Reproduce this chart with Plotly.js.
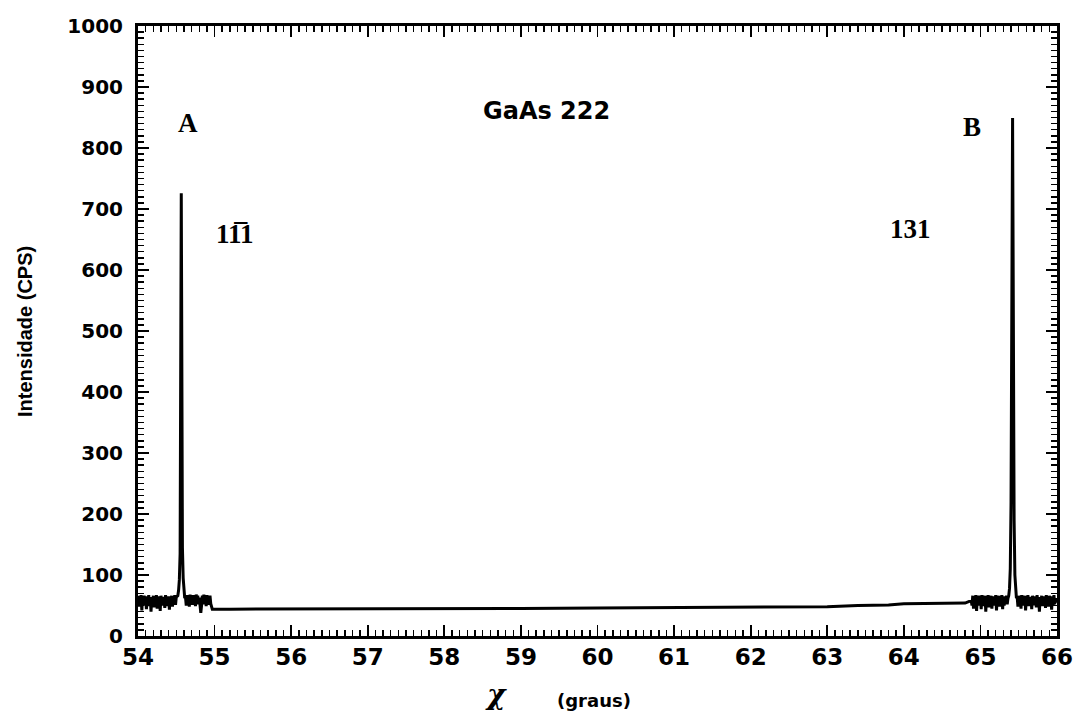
<!DOCTYPE html>
<html>
<head>
<meta charset="utf-8">
<script src="https://cdn.plot.ly/plotly-3.0.1.min.js"></script>
<style>html,body{margin:0;padding:0;background:#fff;}#chart{width:1076px;height:713px;}</style>
</head>
<body>
<div id="chart"></div>
<script>
// ---- data ----
// left noisy region before peak A
const xLeftNoise = [54.00,54.01,54.02,54.03,54.04,54.05,54.06,54.07,54.08,54.09,54.10,54.11,54.12,54.13,54.14,54.15,54.16,54.17,54.18,54.19,54.20,54.21,54.22,54.23,54.24,54.25,54.26,54.27,54.28,54.29,54.30,54.31,54.32,54.33,54.34,54.35,54.36,54.37,54.38,54.39,54.40,54.41,54.42,54.43,54.44,54.45,54.46,54.47,54.48,54.49,54.50];
const yLeftNoise = [66,48,64,52,67,42,63,50,66,53,62,44,65,51,67,49,63,40,64,52,66,47,62,54,67,45,63,51,65,41,66,50,64,53,62,46,67,49,63,52,65,43,64,50,66,48,62,53,67,51,64];
// peak A (1 -1 1)
const xPeakA = [54.52,54.53,54.54,54.55,54.555,54.56,54.565,54.57,54.575,54.58,54.59,54.60,54.61];
const yPeakA = [66,75,92,135,270,530,726,545,285,145,95,74,62];
// noise after peak A
const xMidNoise = [54.62,54.63,54.64,54.65,54.66,54.67,54.68,54.69,54.70,54.71,54.72,54.73,54.74,54.75,54.76,54.77,54.78,54.79,54.80,54.81,54.82,54.83,54.84,54.85,54.86,54.87,54.88,54.89,54.90,54.91,54.92,54.93,54.94,54.95,54.96,54.97];
const yMidNoise = [64,50,67,53,66,48,68,55,65,51,67,54,64,49,68,56,66,52,63,45,38,50,66,54,68,52,65,49,67,55,64,51,66,53,47,44];
// smooth baseline
const xBase = [55.2,55.6,56.0,57.0,58.0,59.0,60.0,61.0,62.0,63.0,63.4,63.8,64.0,64.4,64.8];
const yBase = [44,44,44,44,45,45,46,47,48,48,50,51,53,54,54];
// noise before peak B
const xRightNoise = [64.88,64.89,64.90,64.91,64.92,64.93,64.94,64.95,64.96,64.97,64.98,64.99,65.00,65.01,65.02,65.03,65.04,65.05,65.06,65.07,65.08,65.09,65.10,65.11,65.12,65.13,65.14,65.15,65.16,65.17,65.18,65.19,65.20,65.21,65.22,65.23,65.24,65.25,65.26,65.27,65.28,65.29,65.30,65.31,65.32,65.33,65.34,65.35,65.36];
const yRightNoise = [58,50,66,45,64,52,67,41,63,50,66,53,65,44,67,49,62,54,66,40,64,51,67,47,63,53,66,45,65,50,64,54,67,42,63,51,66,48,64,52,67,44,65,50,63,55,66,52,62];
// peak B (1 3 1)
const xPeakB = [65.37,65.38,65.39,65.40,65.405,65.41,65.415,65.42,65.425,65.43,65.44,65.45,65.46,65.47];
const yPeakB = [66,78,110,220,400,600,780,849,690,430,190,100,72,62];
// noise after peak B
const xTailNoise = [65.48,65.49,65.50,65.51,65.52,65.53,65.54,65.55,65.56,65.57,65.58,65.59,65.60,65.61,65.62,65.63,65.64,65.65,65.66,65.67,65.68,65.69,65.70,65.71,65.72,65.73,65.74,65.75,65.76,65.77,65.78,65.79,65.80,65.81,65.82,65.83,65.84,65.85,65.86,65.87,65.88,65.89,65.90,65.91,65.92,65.93,65.94,65.95,65.96,65.97,65.98,65.99,66.00];
const yTailNoise = [64,48,66,52,63,45,67,50,64,53,66,42,62,51,67,49,64,54,63,44,66,50,65,52,62,47,67,53,64,40,63,51,66,49,65,54,62,46,67,52,64,48,66,53,63,43,65,50,67,52,62,55,60];

const xAll = [].concat(xLeftNoise,xPeakA,xMidNoise,xBase,xRightNoise,xPeakB,xTailNoise);
const yAll = [].concat(yLeftNoise,yPeakA,yMidNoise,yBase,yRightNoise,yPeakB,yTailNoise);

const xTicks = [54,55,56,57,58,59,60,61,62,63,64,65,66];
const yTicks = [0,100,200,300,400,500,600,700,800,900,1000];

const serifBold = {family:'Liberation Serif, DejaVu Serif, serif', size:27, color:'#000', weight:'bold'};

const trace = {
  x: xAll, y: yAll, type:'scatter', mode:'lines',
  line:{color:'#000', width:3}, hoverinfo:'skip'
};

const axisCommon = {
  showgrid:false, zeroline:false, showline:true, linecolor:'#000', linewidth:3,
  mirror:'allticks', ticks:'inside', tickcolor:'#000', tickwidth:1.8, ticklen:11
};

const layout = {
  width:1076, height:713,
  margin:{l:138, r:19, t:26, b:77},
  paper_bgcolor:'#fff', plot_bgcolor:'#fff',
  showlegend:false,
  xaxis: Object.assign({}, axisCommon, {
    range:[54,66], tickmode:'array', tickvals:xTicks, ticktext:xTicks.map(String),
    tickfont:{family:'DejaVu Sans, sans-serif', size:23, color:'#000', weight:'bold'},
    ticklabelstandoff:-2,
    minor:{dtick:0.1, ticks:'inside', ticklen:6, tickcolor:'#000', tickwidth:1.5}
  }),
  yaxis: Object.assign({}, axisCommon, {
    range:[0,1000], tickmode:'array', tickvals:yTicks, ticktext:yTicks.map(String),
    tickfont:{family:'DejaVu Sans, sans-serif', size:20, color:'#000', weight:'bold'},
    ticklabelstandoff:8,
    minor:{dtick:10, ticks:'inside', ticklen:6, tickcolor:'#000', tickwidth:1.5}
  }),
  annotations:[
    {x:54.65, y:841, xref:'x', yref:'y', text:'A', showarrow:false, font:serifBold},
    {x:55.27, y:659, xref:'x', yref:'y', text:'11\u03051', showarrow:false, font:serifBold},
    {x:59.34, y:861, xref:'x', yref:'y', text:'GaAs 222', showarrow:false,
      font:{family:'DejaVu Sans, sans-serif', size:24, color:'#000', weight:'bold'}},
    {x:64.89, y:834, xref:'x', yref:'y', text:'B', showarrow:false, font:serifBold},
    {x:64.09, y:668, xref:'x', yref:'y', text:'131', showarrow:false, font:serifBold},
    {x:-0.123, y:0.5, xref:'paper', yref:'paper', xanchor:'center', yanchor:'middle',
      text:'Intensidade (CPS)', textangle:-90,
      showarrow:false, font:{family:'Liberation Sans Narrow, Liberation Sans, sans-serif', size:20, color:'#000', weight:'bold'}},
    {x:58.68, y:-0.1265, xref:'x', yref:'paper', yanchor:'bottom', text:'\u03C7', showarrow:false,
      font:{family:'DejaVu Serif, Liberation Serif, serif', size:28, color:'#000', weight:'bold', style:'italic'}},
    {x:59.96, y:-0.106, xref:'x', yref:'paper', yanchor:'middle', text:'(graus)', showarrow:false,
      font:{family:'DejaVu Sans, sans-serif', size:18, color:'#000', weight:'bold'}}
  ]
};

Plotly.newPlot('chart', [trace], layout, {displayModeBar:false, staticPlot:true});
</script>
</body>
</html>
